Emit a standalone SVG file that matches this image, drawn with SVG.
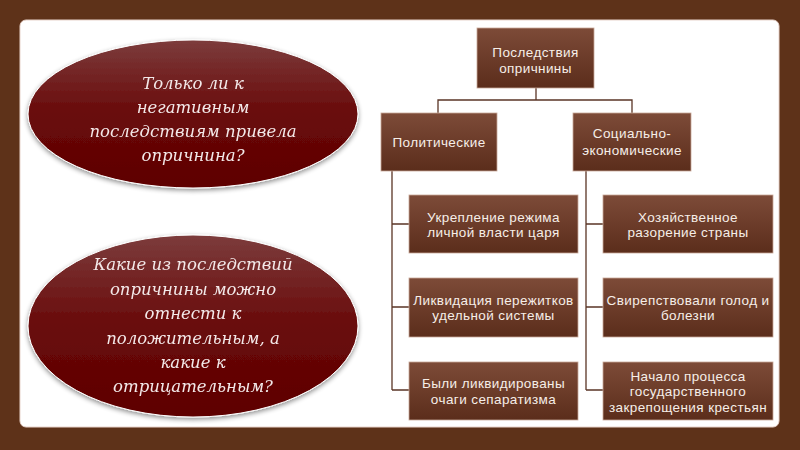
<svg xmlns="http://www.w3.org/2000/svg" width="800" height="450" viewBox="0 0 800 450">
<defs>
<linearGradient id="boxg" x1="0" y1="0" x2="0" y2="1">
<stop offset="0" stop-color="#7d4b38"/>
<stop offset="1" stop-color="#5b2d1b"/>
</linearGradient>
<linearGradient id="ellg" x1="0" y1="0" x2="0" y2="1">
<stop offset="0" stop-color="#7c3c3c"/>
<stop offset="0.5" stop-color="#690a0a"/>
<stop offset="1" stop-color="#5e0000"/>
</linearGradient>
<filter id="sh" x="-10%" y="-10%" width="120%" height="130%">
<feGaussianBlur in="SourceAlpha" stdDeviation="2.5"/>
<feOffset dx="0" dy="2" result="b"/>
<feComponentTransfer><feFuncA type="linear" slope="0.45"/></feComponentTransfer>
<feMerge><feMergeNode/><feMergeNode in="SourceGraphic"/></feMerge>
</filter>
</defs>
<style>
.box{fill:url(#boxg);stroke:#c8a898;stroke-width:0.8}
.ell{fill:url(#ellg);stroke:#ffffff;stroke-width:1}
.bt{font-family:"Liberation Sans",Arial,sans-serif;font-size:13.5px;letter-spacing:0.4px;fill:#f6eee8;text-anchor:middle}
.et{font-family:"DejaVu Serif","Liberation Serif",serif;font-style:italic;font-size:16.5px;fill:#f3e9e9;text-anchor:middle}
.cn{fill:none;stroke:#5a3526;stroke-width:1.3}
</style>
<rect width="800" height="450" fill="#5e3219"/>
<rect x="20" y="20" width="759" height="407" rx="6" fill="#ffffff" stroke="#e8d3cb" stroke-width="1"/>

<g id="connectors">
<path class="cn" d="M536 88V100M438 113V100H632V113"/>
<path class="cn" d="M392 171V390M392 224H409M392 307H409M392 390H409"/>
<path class="cn" d="M586 171V390M586 224H603M586 307H603M586 390H603"/>
</g>

<g id="q1" filter="url(#sh)">
<ellipse class="ell" cx="193" cy="114" rx="165" ry="74"/>
<text class="et"><tspan x="193" y="89">Только ли к</tspan><tspan x="193" y="113">негативным</tspan><tspan x="193" y="137">последствиям привела</tspan><tspan x="193" y="161">опричнина?</tspan></text>
</g>

<g id="q2" filter="url(#sh)">
<ellipse class="ell" cx="193" cy="326" rx="165" ry="91"/>
<text class="et"><tspan x="193" y="270">Какие из последствий</tspan><tspan x="193" y="295">опричнины можно</tspan><tspan x="193" y="319">отнести к</tspan><tspan x="193" y="344">положительным, а</tspan><tspan x="193" y="368">какие к</tspan><tspan x="193" y="392">отрицательным?</tspan></text>
</g>

<g id="root">
<rect class="box" x="477" y="28" width="117" height="60"/>
<text class="bt"><tspan x="535.5" y="57">Последствия</tspan><tspan x="535.5" y="73">опричнины</tspan></text>
</g>

<g id="pol">
<rect class="box" x="381" y="113" width="116" height="58"/>
<text class="bt" x="439" y="147">Политические</text>
</g>

<g id="soc">
<rect class="box" x="573" y="113" width="118" height="58"/>
<text class="bt"><tspan x="632" y="138">Социально-</tspan><tspan x="632" y="155">экономические</tspan></text>
</g>

<g id="p1">
<rect class="box" x="409" y="195" width="169" height="58"/>
<text class="bt"><tspan x="493.5" y="222">Укрепление режима</tspan><tspan x="493.5" y="237">личной власти царя</tspan></text>
</g>

<g id="p2">
<rect class="box" x="409" y="278" width="169" height="59"/>
<text class="bt"><tspan x="493.5" y="305">Ликвидация пережитков</tspan><tspan x="493.5" y="320">удельной системы</tspan></text>
</g>

<g id="p3">
<rect class="box" x="409" y="362" width="169" height="58"/>
<text class="bt"><tspan x="493.5" y="388">Были ликвидированы</tspan><tspan x="493.5" y="404">очаги сепаратизма</tspan></text>
</g>

<g id="s1">
<rect class="box" x="603" y="195" width="170" height="58"/>
<text class="bt"><tspan x="688" y="222">Хозяйственное</tspan><tspan x="688" y="237">разорение страны</tspan></text>
</g>

<g id="s2">
<rect class="box" x="603" y="278" width="170" height="59"/>
<text class="bt"><tspan x="688" y="305">Свирепствовали голод и</tspan><tspan x="688" y="320">болезни</tspan></text>
</g>

<g id="s3">
<rect class="box" x="603" y="362" width="170" height="58"/>
<text class="bt"><tspan x="688" y="381">Начало процесса</tspan><tspan x="688" y="396">государственного</tspan><tspan x="688" y="412">закрепощения крестьян</tspan></text>
</g>
</svg>
